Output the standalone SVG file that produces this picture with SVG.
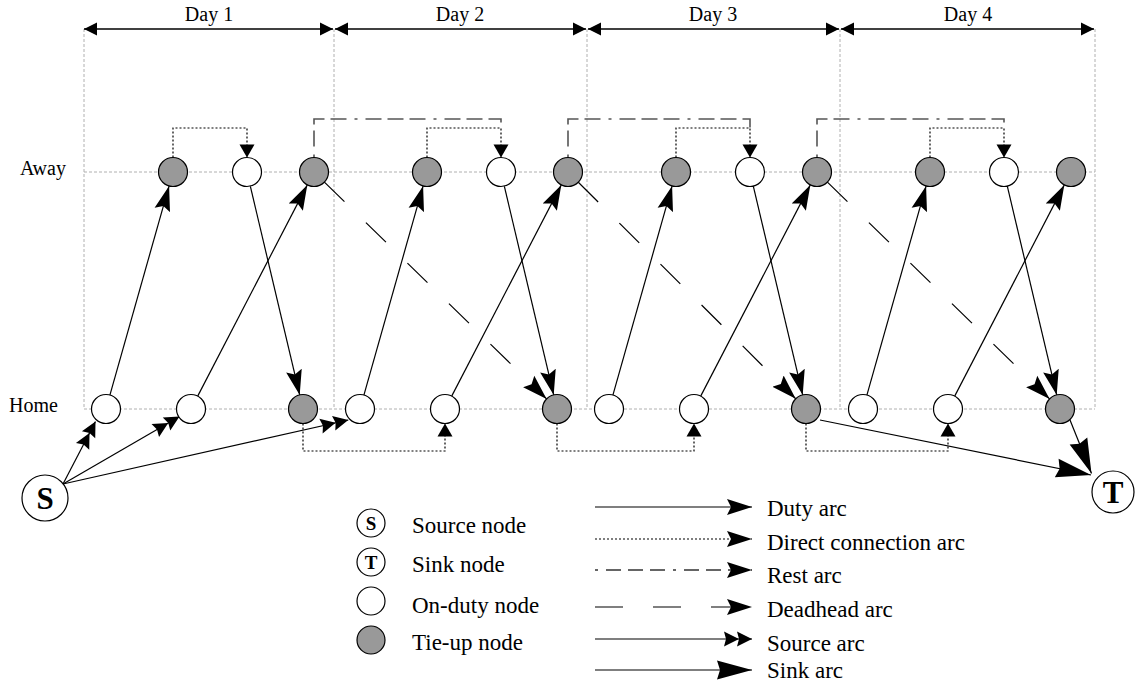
<svg xmlns="http://www.w3.org/2000/svg" width="1136" height="688" viewBox="0 0 1136 688">
<style>
.grid{stroke:#b0b0b0;stroke-width:1;stroke-dasharray:3 2;fill:none}
.on{fill:#fff;stroke:#000;stroke-width:1.2}
.tie{fill:#999;stroke:#000;stroke-width:1.2}
.hdr{stroke:#000;stroke-width:1.3;fill:none;marker-start:url(#aHdr);marker-end:url(#aHdr)}
.duty{stroke:#000;stroke-width:1.2;fill:none;marker-end:url(#aDuty)}
.direct{stroke:#000;stroke-width:1.2;stroke-dasharray:2 2;fill:none;marker-end:url(#aSmall)}
.directL{stroke:#000;stroke-width:1.2;stroke-dasharray:2 2;fill:none;marker-end:url(#aDuty)}
.rest{stroke:#555;stroke-width:1.6;stroke-dasharray:3 8 16 6 16 6 16 8;fill:none}
.restL{stroke:#333;stroke-width:1.3;stroke-dasharray:3 8 15 7 15 7 15 8;fill:none;marker-end:url(#aDuty)}
.dead{stroke:#000;stroke-width:1.2;stroke-dasharray:28 30;fill:none;marker-end:url(#aDuty)}
.source{stroke:#000;stroke-width:1.2;fill:none;marker-end:url(#aSource)}
.sink{stroke:#000;stroke-width:1.2;fill:none;marker-end:url(#aSink)}
text{font-family:"Liberation Serif","Times New Roman",serif;fill:#000}
.day{font-size:20px;text-anchor:middle}
.row{font-size:20px}
.leg{font-size:23px}
.big{font-size:31px;font-weight:bold;text-anchor:middle}
.small{font-size:19px;font-weight:bold;text-anchor:middle}
</style>
<defs>
<marker id="aHdr" viewBox="-14 -7 14 14" refX="0" refY="0" markerWidth="14" markerHeight="14" markerUnits="userSpaceOnUse" orient="auto-start-reverse"><path d="M0,0 L-13,-6.5 L-13,6.5 Z" fill="#000"/></marker>
<marker id="aDuty" viewBox="-25 -9 25 18" refX="0" refY="0" markerWidth="25" markerHeight="18" markerUnits="userSpaceOnUse" orient="auto"><path d="M0,0 L-25,-8 L-21,0 L-25,8 Z" fill="#000"/></marker>
<marker id="aSmall" viewBox="-14 -8 14 16" refX="0" refY="0" markerWidth="14" markerHeight="16" markerUnits="userSpaceOnUse" orient="auto"><path d="M0,0 L-13,-7.5 L-13,7.5 Z" fill="#000"/></marker>
<marker id="aSource" viewBox="-30 -8 30 16" refX="0" refY="0" markerWidth="30" markerHeight="16" markerUnits="userSpaceOnUse" orient="auto"><path d="M0,0 L-15,-7.5 L-13,0 L-15,7.5 Z M-13,0 L-28,-7.5 L-26,0 L-28,7.5 Z" fill="#000"/></marker>
<marker id="aSink" viewBox="-36 -10 36 20" refX="0" refY="0" markerWidth="36" markerHeight="20" markerUnits="userSpaceOnUse" orient="auto"><path d="M0,0 L-35,-9.5 L-32,0 L-35,9.5 Z" fill="#000"/></marker>
</defs>

<g id="grid">
<path class="grid" d="M84,29 V409 M334,29 V409 M587,29 V409 M840,29 V409 M1095,29 V409 M84,172 H1095 M84,409 H1095"/>
</g>

<g id="header">
<path class="hdr" d="M84,29 H333"/>
<path class="hdr" d="M335,29 H586"/>
<path class="hdr" d="M588,29 H839"/>
<path class="hdr" d="M841,29 H1094"/>
<text class="day" x="209" y="21">Day 1</text>
<text class="day" x="460" y="21">Day 2</text>
<text class="day" x="713" y="21">Day 3</text>
<text class="day" x="968" y="21">Day 4</text>
<text class="row" x="20" y="175">Away</text>
<text class="row" x="9" y="412">Home</text>
</g>

<g id="connectors">
<!-- duty arcs -->
<path class="duty" d="M109.9,395.1 L169.1,185.9"/>
<path class="duty" d="M197.7,396.1 L307.3,184.9"/>
<path class="duty" d="M250.3,186.1 L299.7,394.9"/>
<path class="duty" d="M363.9,395.1 L423.1,185.9"/>
<path class="duty" d="M451.7,396.1 L561.3,184.9"/>
<path class="duty" d="M504.3,186.1 L553.7,394.9"/>
<path class="duty" d="M612.9,395.1 L672.1,185.9"/>
<path class="duty" d="M700.7,396.1 L810.3,184.9"/>
<path class="duty" d="M753.3,186.1 L802.7,394.9"/>
<path class="duty" d="M866.9,395.1 L926.1,185.9"/>
<path class="duty" d="M954.7,396.1 L1064.3,184.9"/>
<path class="duty" d="M1007.3,186.1 L1056.7,394.9"/>
<!-- direct connection arcs (away) -->
<path class="direct" d="M173,157.5 V128 H247 V157.5"/>
<path class="direct" d="M427,157.5 V128 H501 V157.5"/>
<path class="direct" d="M676,157.5 V128 H750 V157.5"/>
<path class="direct" d="M930,157.5 V128 H1004 V157.5"/>
<!-- direct connection arcs (home) -->
<path class="direct" d="M303,423.5 V451 H445 V423.5"/>
<path class="direct" d="M557,423.5 V451 H694 V423.5"/>
<path class="direct" d="M806,423.5 V451 H948 V423.5"/>
<!-- rest arcs -->
<path class="rest" d="M314,157.5 V119 H501 V128"/>
<path class="rest" d="M568,157.5 V119 H750 V128"/>
<path class="rest" d="M817,157.5 V119 H1004 V128"/>
<!-- deadhead arcs -->
<path class="dead" d="M324.4,182.1 L546.6,398.9"/>
<path class="dead" d="M578.3,182.2 L795.7,398.8"/>
<path class="dead" d="M827.4,182.1 L1049.6,398.9"/>
<!-- source arcs -->
<path class="source" d="M63,484 L95.5,421.5"/>
<path class="source" d="M63,484 L179.5,416.5"/>
<path class="source" d="M63,484 L348.3,420"/>
<!-- sink arcs -->
<path class="sink" d="M820,420 L1091,475"/>
<path class="sink" d="M1070,420 L1091.5,473.5"/>
</g>

<g id="S"><circle class="on" cx="45" cy="498" r="23"/><text class="big" x="45" y="509">S</text></g>
<g id="T"><circle class="on" cx="1113" cy="492" r="21"/><text class="big" x="1113" y="503">T</text></g>

<g id="day1">
<g id="a1_1"><circle class="tie" cx="173" cy="172" r="14.5"/></g>
<g id="a1_2"><circle class="on" cx="247" cy="172" r="14.5"/></g>
<g id="a1_3"><circle class="tie" cx="314" cy="172" r="14.5"/></g>
<g id="h1_1"><circle class="on" cx="106" cy="409" r="14.5"/></g>
<g id="h1_2"><circle class="on" cx="191" cy="409" r="14.5"/></g>
<g id="h1_3"><circle class="tie" cx="303" cy="409" r="14.5"/></g>
</g>
<g id="day2">
<g id="a2_1"><circle class="tie" cx="427" cy="172" r="14.5"/></g>
<g id="a2_2"><circle class="on" cx="501" cy="172" r="14.5"/></g>
<g id="a2_3"><circle class="tie" cx="568" cy="172" r="14.5"/></g>
<g id="h2_1"><circle class="on" cx="360" cy="409" r="14.5"/></g>
<g id="h2_2"><circle class="on" cx="445" cy="409" r="14.5"/></g>
<g id="h2_3"><circle class="tie" cx="557" cy="409" r="14.5"/></g>
</g>
<g id="day3">
<g id="a3_1"><circle class="tie" cx="676" cy="172" r="14.5"/></g>
<g id="a3_2"><circle class="on" cx="750" cy="172" r="14.5"/></g>
<g id="a3_3"><circle class="tie" cx="817" cy="172" r="14.5"/></g>
<g id="h3_1"><circle class="on" cx="609" cy="409" r="14.5"/></g>
<g id="h3_2"><circle class="on" cx="694" cy="409" r="14.5"/></g>
<g id="h3_3"><circle class="tie" cx="806" cy="409" r="14.5"/></g>
</g>
<g id="day4">
<g id="a4_1"><circle class="tie" cx="930" cy="172" r="14.5"/></g>
<g id="a4_2"><circle class="on" cx="1004" cy="172" r="14.5"/></g>
<g id="a4_3"><circle class="tie" cx="1071" cy="172" r="14.5"/></g>
<g id="h4_1"><circle class="on" cx="863" cy="409" r="14.5"/></g>
<g id="h4_2"><circle class="on" cx="948" cy="409" r="14.5"/></g>
<g id="h4_3"><circle class="tie" cx="1060" cy="409" r="14.5"/></g>
</g>

<g id="legend">
<g id="leg-source"><circle class="on" cx="371" cy="523" r="14"/><text class="small" x="371" y="529.5">S</text><text class="leg" x="412" y="533">Source node</text></g>
<g id="leg-sink"><circle class="on" cx="371" cy="562" r="14"/><text class="small" x="371" y="568.5">T</text><text class="leg" x="412" y="572">Sink node</text></g>
<g id="leg-onduty"><circle class="on" cx="371" cy="601" r="14"/><text class="leg" x="412" y="613">On-duty node</text></g>
<g id="leg-tieup"><circle class="tie" cx="371" cy="640" r="14"/><text class="leg" x="412" y="650">Tie-up node</text></g>
<g id="leg-duty"><path class="duty" d="M595,507 H752"/><text class="leg" x="767" y="516">Duty arc</text></g>
<g id="leg-direct"><path class="directL" d="M595,539 H752"/><text class="leg" x="767" y="550">Direct connection arc</text></g>
<g id="leg-rest"><path class="restL" d="M595,570 H752"/><text class="leg" x="767" y="583">Rest arc</text></g>
<g id="leg-dead"><path class="dead" d="M595,607 H752"/><text class="leg" x="767" y="617">Deadhead arc</text></g>
<g id="leg-src"><path class="source" d="M595,639 H752"/><text class="leg" x="767" y="651">Source arc</text></g>
<g id="leg-snk"><path class="sink" d="M595,670 H752"/><text class="leg" x="767" y="678">Sink arc</text></g>
</g>
</svg>
